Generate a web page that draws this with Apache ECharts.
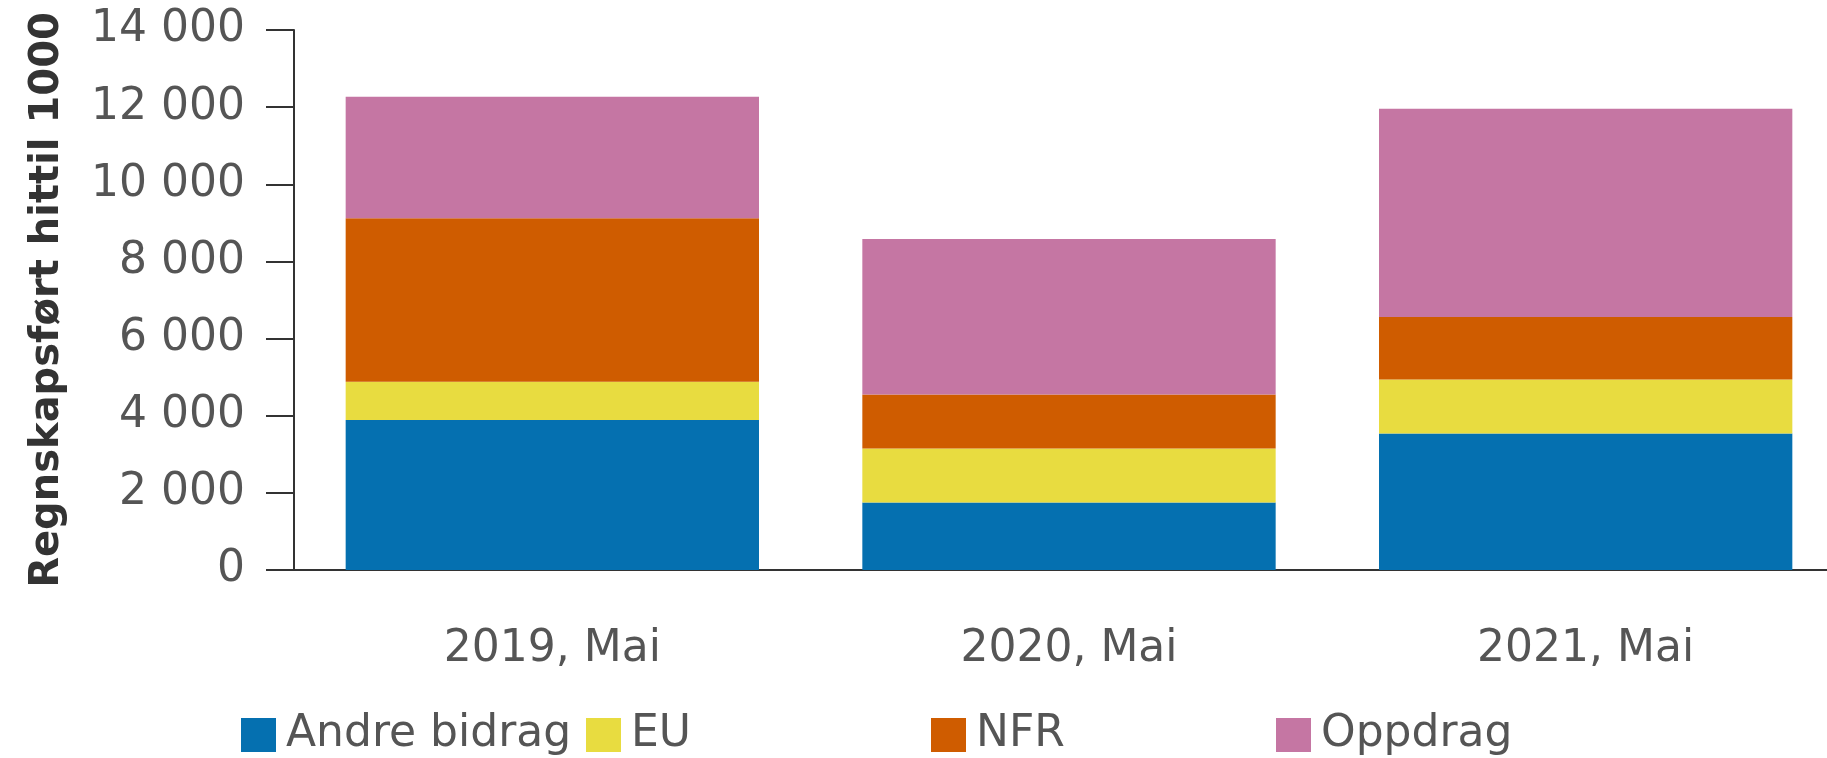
<!DOCTYPE html>
<html>
<head>
<meta charset="utf-8">
<script src="https://cdn.jsdelivr.net/npm/echarts@6/dist/echarts.min.js"></script>
<style>
html,body{margin:0;padding:0;background:#fff;}
#chart{width:1827px;height:758px;}
</style>
</head>
<body>
<div id="chart"></div>
<script>
const categories = ['2019, Mai', '2020, Mai', '2021, Mai'];
const seriesNames = ['Andre bidrag', 'EU', 'NFR', 'Oppdrag'];
const andreBidrag = [3890, 1750, 3540];
const eu = [990, 1400, 1400];
const nfr = [4240, 1400, 1620];
const oppdrag = [3150, 4030, 5400];
const yTicks = [0, 2000, 4000, 6000, 8000, 10000, 12000, 14000];
const yTitle = 'Regnskapsført hittil 1000';

const colors = ['#0570b0', '#e8dc40', '#cf5c00', '#c576a3'];
const values = [andreBidrag, eu, nfr, oppdrag];
const FONT = 'DejaVu Sans';
const legendLeft = [241, 586, 931, 1276];

const chart = echarts.init(document.getElementById('chart'), null, {renderer: 'canvas'});

function fmt(v) {
  return String(v).replace(/\B(?=(\d{3})+(?!\d))/g, ' ');
}

const option = {
  animation: false,
  color: colors,
  grid: {left: 294, top: 30, width: 1550, bottom: 188, containLabel: false, outerBoundsMode: 'none'},
  legend: seriesNames.map((n, i) => ({
    data: [n],
    left: legendLeft[i],
    top: 713,
    itemWidth: 35,
    itemHeight: 34,
    icon: 'rect',
    padding: 0,
    textStyle: {fontFamily: FONT, fontSize: 44, color: '#555555', padding: [0, 0, 0, 5]}
  })),
  xAxis: {
    type: 'category',
    data: categories,
    axisLine: {lineStyle: {color: '#333333', width: 2}},
    axisTick: {alignWithLabel: true, length: 30, lineStyle: {color: '#333333', width: 2}},
    axisLabel: {fontFamily: FONT, fontSize: 44, color: '#555555', margin: 58}
  },
  yAxis: {
    type: 'value',
    min: yTicks[0],
    max: yTicks[yTicks.length - 1],
    interval: yTicks[1] - yTicks[0],
    name: yTitle,
    nameLocation: 'middle',
    nameGap: 226,
    nameTextStyle: {fontFamily: FONT, fontSize: 40, fontWeight: 'bold', color: '#333333'},
    axisLine: {show: true, lineStyle: {color: '#333333', width: 2}},
    axisTick: {show: true, length: 28, lineStyle: {color: '#333333', width: 2}},
    splitLine: {show: false},
    axisLabel: {fontFamily: FONT, fontSize: 44, color: '#555555', margin: 49, formatter: fmt}
  },
  series: seriesNames.map((n, i) => ({
    name: n,
    type: 'bar',
    stack: 'total',
    barCategoryGap: '20%',
    data: values[i],
    itemStyle: {color: colors[i]}
  }))
};
chart.setOption(option);
</script>
</body>
</html>
